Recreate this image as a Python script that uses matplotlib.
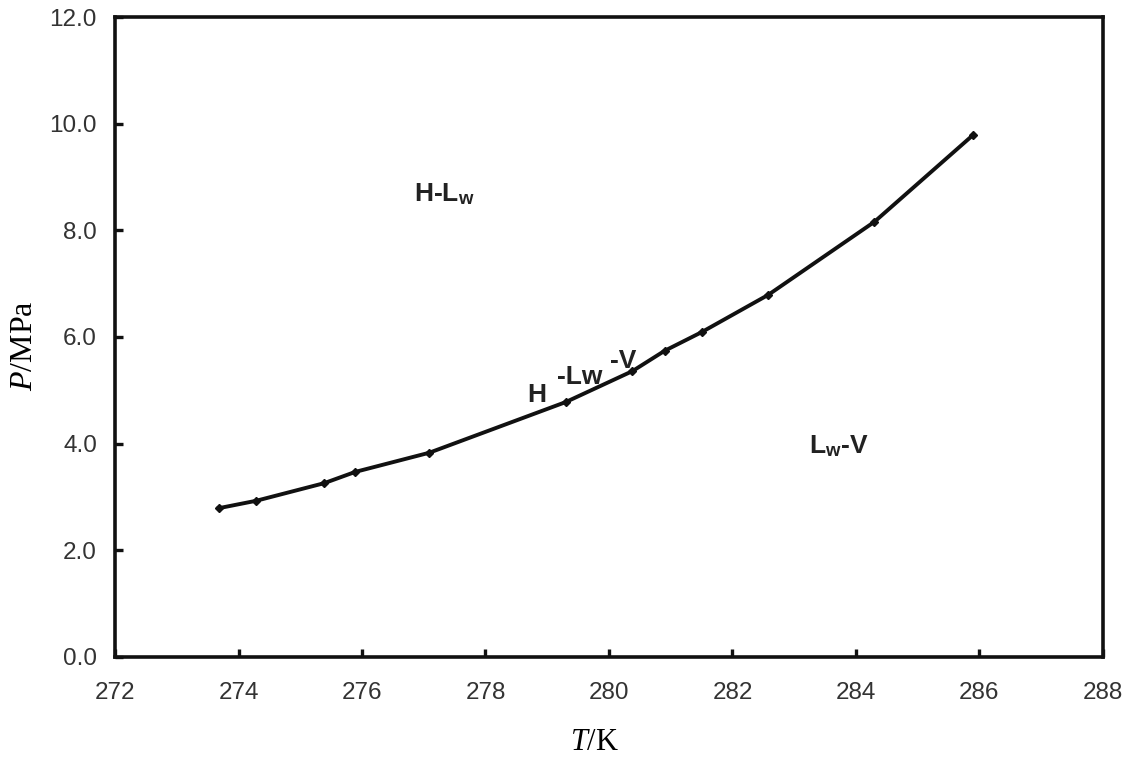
import matplotlib
matplotlib.use("Agg")
import matplotlib.pyplot as plt

T = [273.68, 274.29, 275.39, 275.89, 277.09, 279.30, 280.38, 280.90, 281.50, 282.58, 284.30, 285.90]
P = [2.79, 2.93, 3.26, 3.47, 3.83, 4.78, 5.36, 5.74, 6.09, 6.79, 8.16, 9.79]
xticks = [272, 274, 276, 278, 280, 282, 284, 286, 288]
yticks = [0.0, 2.0, 4.0, 6.0, 8.0, 10.0, 12.0]

plt.rcParams['mathtext.fontset'] = 'custom'
plt.rcParams['mathtext.it'] = 'Liberation Serif:italic'
plt.rcParams['mathtext.rm'] = 'Liberation Serif'
plt.rcParams['mathtext.bf'] = 'Liberation Sans:bold'

fig = plt.figure(figsize=(11.3, 7.59), dpi=100)
ax = fig.add_axes([0.1018, 0.1344, 0.8742, 0.8432])

ax.plot(T, P, color='#111111', lw=2.8, marker='D', ms=4.5, mec='#111111', mfc='#111111')

ax.set_xlim(272, 288)
ax.set_ylim(0, 12)
ax.set_xticks(xticks)
ax.set_yticks(yticks)
ax.set_xticklabels([str(v) for v in xticks])
ax.set_yticklabels([f"{v:.1f}" for v in yticks])
for s in ax.spines.values():
    s.set_linewidth(2.6)
    s.set_color('#111111')
ax.tick_params(direction='in', length=6, width=2.4, color='#111111',
               labelsize=17.5, labelcolor='#333333',
               top=False, right=False)
ax.tick_params(axis='y', pad=13)
ax.tick_params(axis='x', pad=18)
for lab in ax.get_xticklabels() + ax.get_yticklabels():
    lab.set_family('Liberation Sans')

ax.set_xlabel(r"$\it{T}$/K", fontsize=22, family='Liberation Serif', va='center')
ax.set_ylabel(r"$\it{P}$/MPa", fontsize=23, family='Liberation Serif', va='center')
ax.xaxis.set_label_coords(0.485, -0.133)
ax.yaxis.set_label_coords(-0.0916, 0.486)

tkw = dict(fontsize=19, fontweight='bold', family='Liberation Sans', color='#222222',
           ha='center', va='center')
ax.text(277.34, 8.68, r"H-L$_\mathbf{w}$", **tkw)
ax.text(283.72, 3.95, r"L$_\mathbf{w}$-V", **tkw)
ax.text(278.83, 4.91, "H", **tkw)
ax.text(279.52, 5.25, "-Lw", **tkw)
ax.text(280.23, 5.55, "-V", **tkw)

fig.savefig("out.png", dpi=100)
